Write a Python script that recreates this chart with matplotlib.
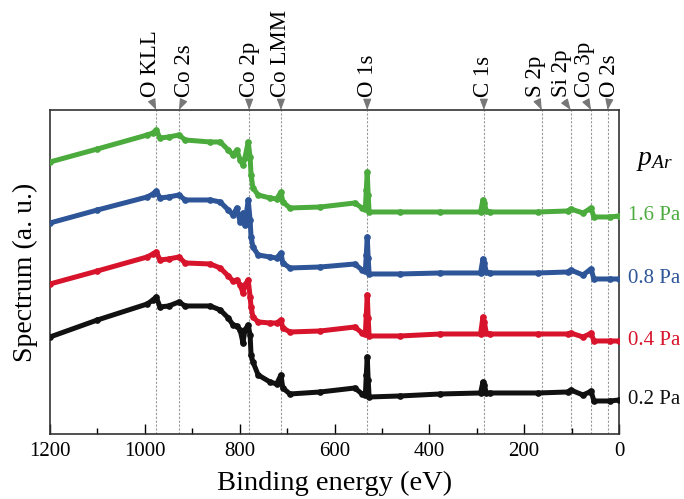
import matplotlib

matplotlib.use("Agg")
import matplotlib.pyplot as plt
from matplotlib.ticker import MultipleLocator

plt.rcParams["font.family"] = ["Liberation Serif", "DejaVu Serif"]
plt.rcParams["mathtext.fontset"] = "custom"
plt.rcParams["mathtext.rm"] = "Liberation Serif"
plt.rcParams["mathtext.it"] = "Liberation Serif:italic"

# binding energy grid (eV), shared by all four spectra
energy = [1200, 1100, 995, 983, 976, 968, 950, 928, 915, 862, 841, 824, 814, 806,
          799, 793, 789, 782, 778, 776, 772, 761, 736, 722, 713, 709, 694, 630,
          557, 542, 535, 533, 531, 529, 527, 462, 377, 292, 287, 284, 280, 272,
          170, 108, 102, 76, 62, 59, 53, 19, 0]

# offset spectra in arbitrary units
spec_02 = [97, 114, 130, 134, 137, 127, 128, 132, 128, 128, 124, 116, 109, 108,
           104, 91, 104, 109, 99, 79, 72, 59, 52, 50, 59, 46, 40, 42,
           46, 40, 39, 59, 77, 54, 37, 38, 40, 41, 52, 49, 41, 41,
           41, 42, 44, 39, 42, 43, 33, 33, 34]
spec_04 = [150, 163, 177, 180, 182, 174, 175, 177, 171, 170, 166, 158, 153, 154,
           149, 141, 149, 154, 137, 127, 117, 112, 111, 111, 114, 106, 102, 103,
           107, 101, 100, 119, 139, 116, 98, 98, 100, 100, 117, 112, 101, 100,
           100, 100, 101, 97, 100, 101, 93, 93, 93]
spec_08 = [211, 224, 237, 240, 243, 236, 237, 239, 234, 234, 232, 224, 219, 226,
           212, 221, 209, 234, 214, 197, 187, 179, 177, 176, 181, 171, 166, 167,
           170, 164, 163, 179, 197, 176, 160, 160, 161, 161, 175, 171, 162, 161,
           161, 162, 164, 159, 164, 165, 155, 155, 155]
spec_16 = [272, 285, 299, 301, 304, 296, 297, 299, 294, 292, 292, 284, 279, 284,
           274, 269, 276, 292, 277, 259, 246, 239, 236, 235, 242, 232, 226, 227,
           231, 226, 225, 244, 262, 239, 222, 222, 222, 222, 234, 231, 223, 222,
           222, 223, 225, 221, 225, 226, 217, 217, 218]

series = [
    ("0.2 Pa", spec_02, "#111111"),
    ("0.4 Pa", spec_04, "#d7142b"),
    ("0.8 Pa", spec_08, "#2d5598"),
    ("1.6 Pa", spec_16, "#4bab3d"),
]

# peak assignments: (label, energy, text x-offset in px)
peaks = [
    ("O KLL", 976, -6),
    ("Co 2s", 928, 6),
    ("Co 2p", 780, 0),
    ("Co LMM", 713, 0),
    ("O 1s", 531, 0),
    ("C 1s", 285, 0),
    ("S 2p", 163, -6),
    ("Si 2p", 102, -9),
    ("Co 3p", 59, -7),
    ("O 2s", 24, 2),
]

fig = plt.figure(figsize=(6.84, 4.99), dpi=100)
ax = fig.add_axes([0.0731, 0.1303, 0.8319, 0.6493])

for label, values, color in series:
    ax.plot(energy, values, color=color, lw=3.6, marker="o", ms=3.8,
            solid_joinstyle="round", solid_capstyle="round", zorder=3)
    ax.text(1.015, values[-1], label, color=color, fontsize=15,
            transform=ax.get_yaxis_transform(), ha="left", va="center")

for label, e, dx in peaks:
    ax.axvline(e, color="#999999", lw=0.8, ls=(0, (2, 1.5)), zorder=1)
    ax.annotate(label, xy=(e, 1), xycoords=("data", "axes fraction"),
                xytext=(dx * 0.72, 13 * 0.72), textcoords="offset points",
                rotation=90, ha="center", va="bottom", fontsize=16.5,
                arrowprops=dict(arrowstyle="-|>,head_length=0.4,head_width=0.15",
                                color="#777777", lw=0.8, relpos=(0.5, 0),
                                shrinkA=1, shrinkB=0))

ax.text(1.03, 0.845, r"$p_{Ar}$", transform=ax.transAxes, fontsize=20,
        ha="left", va="center")

ax.set_xlim(1200, 0)
ax.set_ylim(0, 324)
ax.xaxis.set_major_locator(MultipleLocator(200))
ax.xaxis.set_minor_locator(MultipleLocator(100))
ax.tick_params(axis="x", which="major", direction="in", length=7, width=1,
               labelsize=15, pad=6)
ax.tick_params(axis="x", which="minor", direction="in", length=4, width=1)
ax.set_yticks([])
for spine in ax.spines.values():
    spine.set_color("#333333")
    spine.set_linewidth(1.2)

ax.set_xlabel("Binding energy (eV)", fontsize=20.5, labelpad=7)
ax.set_ylabel("Spectrum (a. u.)", fontsize=20, labelpad=9)

fig.savefig("out.png", dpi=100)
